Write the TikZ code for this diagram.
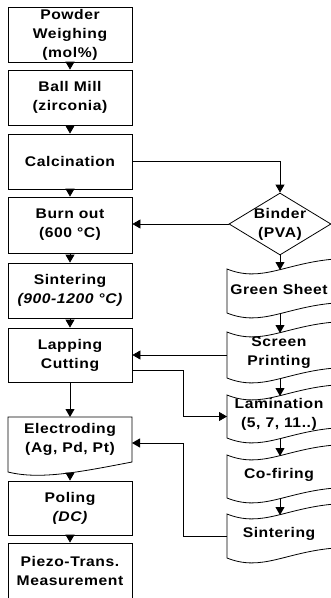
\documentclass[tikz,border=0pt]{standalone}
\usepackage{fontspec}
\setmainfont{Liberation Sans}[FakeStretch=1.12, LetterSpace=4]
\usetikzlibrary{arrows.meta,shapes.geometric}
\newcommand\lblfont{\fontsize{14}{19}\selectfont\bfseries}
\tikzset{
  line/.style={draw=black, line width=0.8pt},
  box/.style={line, minimum width=124pt, minimum height=55pt, align=center, inner sep=0pt, font=\lblfont},
  lbl/.style={align=center, inner sep=0pt, font=\lblfont},
  arr/.style={line, -{Triangle[width=9pt,length=8pt]}},
}
\newcommand\tapeshape[4]{%
  \draw[line] (227,#2) .. controls (262,#2+14) and (285,#2-6) .. (335,#2-10)
     -- (335,#3-10) .. controls (285,#3-6) and (262,#3+14) .. (227,#3) -- cycle;
  \node[lbl] (#1) at (279,{(#2+#3)/2-2}) {#4};
  \coordinate (#1-w) at (227,{(#2+#3)/2});
  \coordinate (#1-t) at (280,#2+1);
  \coordinate (#1-b) at (280,#3+1);
}
\begin{document}
\begin{tikzpicture}[x=1pt,y=-1pt]
\useasboundingbox (0,0) rectangle (331,598);
\clip (0,0) rectangle (331,598);
\fill[white] (0,0) rectangle (331,598);
% left column
\node[box] (b1) at (70,34.5) {Powder\\Weighing\\(mol\%)};
\node[box] (b2) at (70,97.5) {Ball Mill\\(zirconia)};
\node[box] (b3) at (70,161.5) {Calcination};
\node[box, minimum height=56pt] (b4) at (70,225) {Burn out\\(600 °C)};
\node[box] (b5) at (70,290.5) {Sintering\\\itshape(900-1200 °C)};
\node[box, minimum height=54pt] (b6) at (70,355) {Lapping\\Cutting};
% electroding (document shape)
\draw[line] (8,417) -- (132,417) -- (132,462) .. controls (80,472) and (40,480) .. (8,472) -- cycle;
\node[lbl] (b7) at (70,439) {Electroding\\(Ag, Pd, Pt)};
\coordinate (b7n) at (70,417);
\coordinate (b7s) at (70,473);
\coordinate (b7e) at (132,443);
\node[box, minimum height=54pt] (b8) at (70,508) {Poling\\\itshape(DC)};
\node[box, minimum height=56pt] (b9) at (70,571) {Piezo-Trans.\\Measurement};
% right column
\node[line, diamond, aspect=1.645, minimum width=102pt, minimum height=62pt, inner sep=-3pt, align=center, font=\lblfont] (bin) at (280,224) {Binder\\(PVA)};
\tapeshape{gs}{269}{313}{Green Sheet}
\tapeshape{sp}{332}{378}{Screen\\Printing}
\tapeshape{lam}{395}{438}{Lamination\\(5, 7, 11..)}
\tapeshape{cf}{455}{498}{Co-firing}
\tapeshape{sint}{514}{558}{Sintering}
% connectors, left column
\draw[arr] (b1.south) -- (b2.north);
\draw[arr] (b2.south) -- (b3.north);
\draw[arr] (b3.south) -- (b4.north);
\draw[arr] (b4.south) -- (b5.north);
\draw[arr] (b5.south) -- (b6.north);
\draw[arr] (b6.south) -- (b7n);
\draw[arr] (b7s) -- (b8.north);
\draw[arr] (b8.south) -- (b9.north);
% connectors, right side
\draw[arr] (b3.east) -| (bin.north);
\draw[arr] (bin.west) -- (bin.west -| b4.east);
\draw[arr] (bin.south) -- (gs-t);
\draw[arr] (gs-b) -- (sp-t);
\draw[arr] (sp-b) -- (lam-t);
\draw[arr] (lam-b) -- (cf-t);
\draw[arr] (cf-b) -- (sint-t);
\draw[arr] (sp-w) -- (sp-w -| b6.east);
\coordinate (b6e) at (132,370);
\coordinate (j1) at (183,370);
\draw[arr] (b6e) -- (j1) |- (lam-w);
\coordinate (j2) at (183,536);
\draw[arr] (sint-w) -- (j2) |- (b7e);
\end{tikzpicture}
\end{document}
